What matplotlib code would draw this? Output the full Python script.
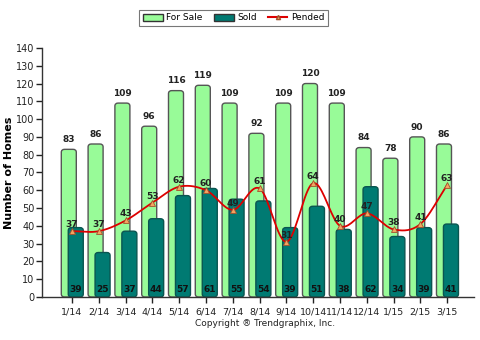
import numpy as np
import matplotlib.pyplot as plt
from matplotlib.patches import FancyBboxPatch, Patch
from matplotlib.lines import Line2D

months = ['1/14', '2/14', '3/14', '4/14', '5/14', '6/14', '7/14', '8/14',
          '9/14', '10/14', '11/14', '12/14', '1/15', '2/15', '3/15']
for_sale = [83, 86, 109, 96, 116, 119, 109, 92, 109, 120, 109, 84, 78, 90, 86]
sold = [39, 25, 37, 44, 57, 61, 55, 54, 39, 51, 38, 62, 34, 39, 41]
pended = [37, 37, 43, 53, 62, 60, 49, 61, 31, 64, 40, 47, 38, 41, 63]

GREEN = '#98fb98'
TEAL = '#007a72'
RED = '#dd0000'


def smooth(x, y, n=20):
    # Catmull-Rom curve through the points
    x = np.asarray(x, float)
    y = np.asarray(y, float)
    px = np.concatenate([[2 * x[0] - x[1]], x, [2 * x[-1] - x[-2]]])
    py = np.concatenate([[2 * y[0] - y[1]], y, [2 * y[-1] - y[-2]]])
    xs, ys = [], []
    t = np.linspace(0, 1, n)
    for i in range(1, len(px) - 2):
        for p, out in ((px, xs), (py, ys)):
            p0, p1, p2, p3 = p[i - 1], p[i], p[i + 1], p[i + 2]
            out.extend(0.5 * (2 * p1 + (-p0 + p2) * t
                              + (2 * p0 - 5 * p1 + 4 * p2 - p3) * t ** 2
                              + (-p0 + 3 * p1 - 3 * p2 + p3) * t ** 3))
    return np.array(xs), np.array(ys)


fig = plt.figure(figsize=(4.8, 3.4), dpi=100)
ax = fig.add_axes([0.0875, 0.1265, 0.9, 0.7325])
ax.set_xlim(-1.12, 15.0)
ax.set_ylim(0, 140)

x = np.arange(len(months))
w = 0.56


def rounded_bar(xc, h, fc, ec):
    p = FancyBboxPatch((xc - w / 2, 0), w, h,
                       boxstyle='round,pad=0,rounding_size=0.12',
                       mutation_aspect=14, fc=fc, ec=ec, lw=1.0, zorder=2)
    ax.add_patch(p)


for i in x:
    rounded_bar(i - 0.12, for_sale[i], GREEN, '#555555')
for i in x:
    rounded_bar(i + 0.14, sold[i], TEAL, '#0a5550')

for i in x:
    ax.text(i - 0.12, for_sale[i] + 3, str(for_sale[i]), ha='center', va='bottom',
            fontsize=6.5, fontweight='bold', color='#222222')
    ax.text(i + 0.14, 1.5, str(sold[i]), ha='center', va='bottom',
            fontsize=6.5, fontweight='bold', color='#111111', zorder=5)
    ax.text(i, pended[i] + 1.2, str(pended[i]), ha='center', va='bottom',
            fontsize=6.5, fontweight='bold', color='#222222', zorder=5)

sx, sy = smooth(x, pended)
ax.plot(sx, sy, color=RED, lw=1.3, zorder=3)
ax.plot(x, pended, ls='none', marker='^', ms=5, mfc='#f4a460', mec='#a0522d',
        mew=0.6, zorder=4)

ax.set_xticks(x)
ax.set_xticklabels(months, fontsize=6.8)
ax.set_yticks(range(0, 141, 10))
ax.tick_params(axis='y', labelsize=7, length=4, width=1, pad=1.5, colors='#222222')
ax.tick_params(axis='x', length=4, width=1, colors='#222222')
for s in ('top', 'right'):
    ax.spines[s].set_visible(False)
for s in ('left', 'bottom'):
    ax.spines[s].set_color('#333333')
    ax.spines[s].set_linewidth(1.0)
ax.set_ylabel('Number of Homes', fontsize=8, fontweight='bold', va='center')
ax.yaxis.set_label_coords(-0.077, 0.5)

handles = [Patch(fc=GREEN, ec='#333333', label='For Sale'),
           Patch(fc=TEAL, ec='#333333', label='Sold'),
           Line2D([], [], color=RED, marker='^', ms=3, mfc='#f4a460',
                  mec='#a0522d', label='Pended')]
leg = fig.legend(handles=handles, loc='upper center', bbox_to_anchor=(0.487, 0.985),
                 ncol=3, fontsize=6.5, frameon=True, fancybox=False,
                 handlelength=2.2, handleheight=0.8, columnspacing=1.2,
                 borderpad=0.4, handletextpad=0.4)
leg.get_frame().set_edgecolor('#555555')
leg.get_frame().set_linewidth(0.8)

fig.text(0.552, 0.04, 'Copyright \u00ae Trendgraphix, Inc.', ha='center',
         fontsize=6.5, color='#222222')

fig.savefig('out.png', dpi=100)
